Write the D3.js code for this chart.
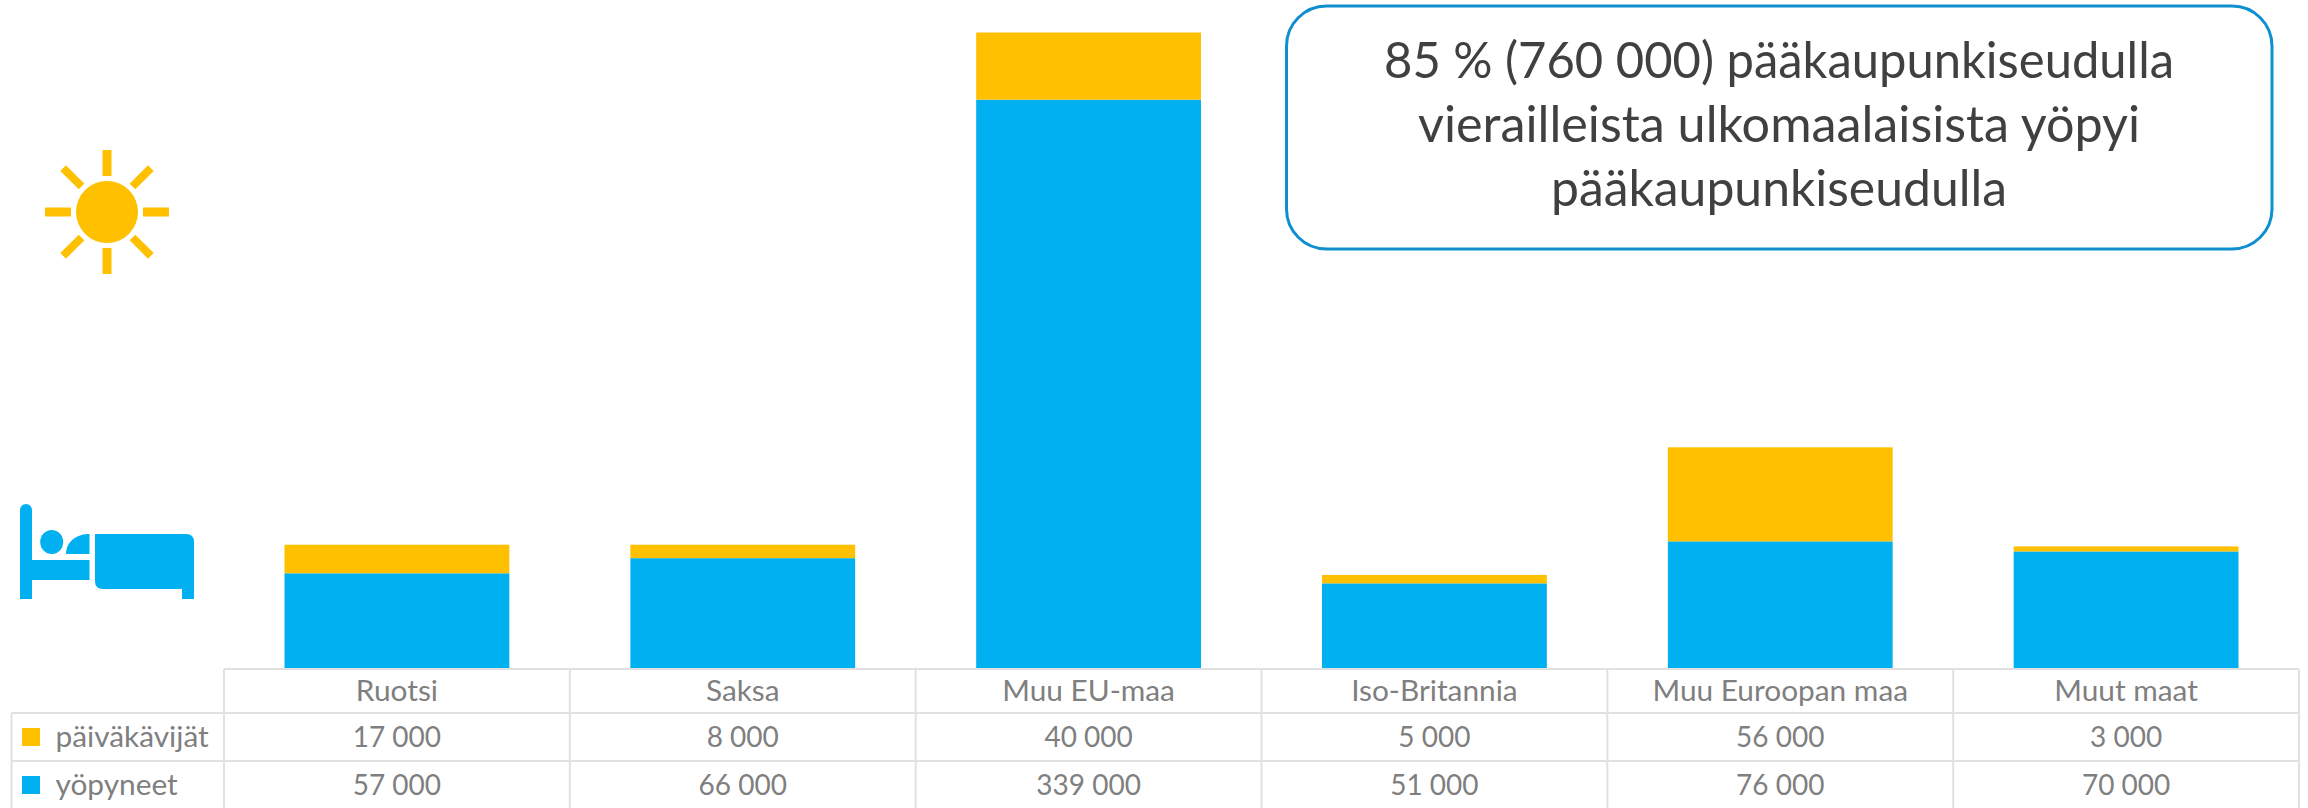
<!DOCTYPE html>
<html>
<head>
<meta charset="utf-8">
<script src="https://cdn.jsdelivr.net/npm/d3@7"></script>
<style>
  body { margin: 0; background: #fff; }
  text { font-family: Lato, "Open Sans", sans-serif; }
</style>
</head>
<body>
<svg id="chart"></svg>
<script>
// Data
var categories = ['Ruotsi', 'Saksa', 'Muu EU-maa', 'Iso-Britannia', 'Muu Euroopan maa', 'Muut maat'];
var seriesNames = ['päiväkävijät', 'yöpyneet'];
var dayVisitors = [17000, 8000, 40000, 5000, 56000, 3000];
var overnight = [57000, 66000, 339000, 51000, 76000, 70000];
var noteLines = ['85 % (760 000) pääkaupunkiseudulla', 'vierailleista ulkomaalaisista yöpyi', 'pääkaupunkiseudulla'];

var svgWidth = 2308;
var svgHeight = 808;

var yellow = '#FFC000';
var blue = '#00B0F0';
var gridColor = '#e1e1e1';
var textColor = '#7f7f7f';

var svg = d3.select('#chart')
    .attr('width', svgWidth)
    .attr('height', svgHeight)
    .style('display', 'block');

// Table geometry
var tableLeft = 224;
var tableRight = 2299;
var rowLines = [669, 713, 761, 808];

var xScale = d3.scaleBand()
    .domain(categories)
    .range([tableLeft, tableRight])
    .paddingInner(0.35)
    .paddingOuter(0.175);

var yScale = d3.scaleLinear()
    .domain([0, 379000])
    .range([669, 32.5]);

var fmt = d3.formatLocale({ decimal: ',', thousands: ' ', grouping: [3], currency: ['', ''] }).format(',d');

// Lato runs a bit narrower than the original font on letters, stretch it to fit
function stretch(selection, ratio) {
    selection.each(function() {
        var t = d3.select(this);
        t.attr('textLength', this.getComputedTextLength() * ratio)
            .attr('lengthAdjust', 'spacingAndGlyphs');
    });
}

// Stacked bars
var rows = categories.map((c, i) => ({ cat: c, day: dayVisitors[i], night: overnight[i] }));

svg.append('g').selectAll('rect')
    .data(rows)
    .enter()
    .append('rect')
    .attr('x', (d) => xScale(d.cat))
    .attr('width', xScale.bandwidth())
    .attr('y', (d) => yScale(d.night))
    .attr('height', (d) => yScale(0) - yScale(d.night))
    .attr('fill', blue);

svg.append('g').selectAll('rect')
    .data(rows)
    .enter()
    .append('rect')
    .attr('x', (d) => xScale(d.cat))
    .attr('width', xScale.bandwidth())
    .attr('y', (d) => yScale(d.night + d.day))
    .attr('height', (d) => yScale(d.night) - yScale(d.night + d.day))
    .attr('fill', yellow);

// Data table lines
var grid = svg.append('g')
    .attr('stroke', gridColor)
    .attr('stroke-width', 2)
    .attr('fill', 'none');

var step = xScale.step();
var cellEdges = d3.range(categories.length + 1).map((i) => tableLeft + i * step);

grid.selectAll('.v')
    .data(cellEdges)
    .enter()
    .append('line')
    .attr('x1', (d) => d)
    .attr('x2', (d) => d)
    .attr('y1', rowLines[0])
    .attr('y2', svgHeight);

grid.append('line').attr('x1', tableLeft).attr('x2', tableRight).attr('y1', rowLines[0]).attr('y2', rowLines[0]);
grid.append('line').attr('x1', 11.5).attr('x2', tableRight).attr('y1', rowLines[1]).attr('y2', rowLines[1]);
grid.append('line').attr('x1', 11.5).attr('x2', tableRight).attr('y1', rowLines[2]).attr('y2', rowLines[2]);
grid.append('line').attr('x1', 11.5).attr('x2', 11.5).attr('y1', rowLines[1]).attr('y2', svgHeight);

// Category labels
var catAxis = d3.axisBottom(xScale).tickSize(0).tickPadding(0);
var catGroup = svg.append('g')
    .attr('transform', 'translate(0, 669)')
    .call(catAxis);
catGroup.select('.domain').remove();
catGroup.selectAll('text')
    .attr('y', 31.5)
    .attr('dy', 0)
    .attr('fill', textColor)
    .attr('font-size', 28)
    .style('font-family', 'Lato')
    .call(stretch, 1.065);

// Value rows
function valueRow(values, baseline) {
    svg.append('g').selectAll('text')
        .data(values)
        .enter()
        .append('text')
        .attr('x', (d, i) => xScale(categories[i]) + xScale.bandwidth() / 2)
        .attr('y', baseline)
        .attr('text-anchor', 'middle')
        .attr('fill', textColor)
        .attr('font-size', 28)
        .text((d) => fmt(d));
}
valueRow(dayVisitors, 747);
valueRow(overnight, 795);

// Legend keys inside the table
var keyColors = [yellow, blue];
var keyTops = [728, 776];
seriesNames.forEach((name, i) => {
    svg.append('rect')
        .attr('x', 22).attr('y', keyTops[i])
        .attr('width', 18).attr('height', 18)
        .attr('fill', keyColors[i]);
    svg.append('text')
        .attr('x', 55.5)
        .attr('y', keyTops[i] + 18.5)
        .attr('fill', textColor)
        .attr('font-size', 28)
        .text(name)
        .call(stretch, 1.065);
});

// Note box
svg.append('rect')
    .attr('x', 1286.5).attr('y', 6)
    .attr('width', 985.5).attr('height', 243)
    .attr('rx', 40).attr('ry', 40)
    .attr('fill', '#fff')
    .attr('stroke', '#0F8FD0')
    .attr('stroke-width', 3);

var noteWidths = [790, 722, 456];
svg.append('g').selectAll('text')
    .data(noteLines)
    .enter()
    .append('text')
    .attr('x', 1779)
    .attr('y', (d, i) => 78 + i * 64)
    .attr('text-anchor', 'middle')
    .attr('fill', '#404040')
    .attr('font-size', 50)
    .attr('textLength', (d, i) => noteWidths[i])
    .attr('lengthAdjust', 'spacingAndGlyphs')
    .text((d) => d);

// Sun icon
var sun = svg.append('g')
    .attr('transform', 'translate(107, 212)')
    .attr('fill', yellow);
sun.append('circle').attr('r', 31);
sun.selectAll('rect')
    .data(d3.range(8))
    .enter()
    .append('rect')
    .attr('x', (d) => d % 2 ? -4 : -4.5).attr('y', -62)
    .attr('width', (d) => d % 2 ? 8 : 9).attr('height', 26)
    .attr('transform', (d) => `rotate(${d * 45})`);

// Bed icon
var bed = svg.append('g').attr('fill', blue);
bed.append('rect').attr('x', 20).attr('y', 510).attr('width', 12).attr('height', 89);
bed.append('circle').attr('cx', 26).attr('cy', 510).attr('r', 6);
bed.append('ellipse').attr('cx', 51.7).attr('cy', 542).attr('rx', 11.5).attr('ry', 12);
bed.append('path').attr('d', 'M66,554 C66,542 76,534 89.5,534 L89.5,554 Z');
bed.append('rect').attr('x', 32).attr('y', 560).attr('width', 57.5).attr('height', 20);
bed.append('path').attr('d', 'M95,534 L186,534 Q194,534 194,542 L194,599 L182,599 L182,589 L103,589 Q95,589 95,581 Z');
</script>
</body>
</html>
